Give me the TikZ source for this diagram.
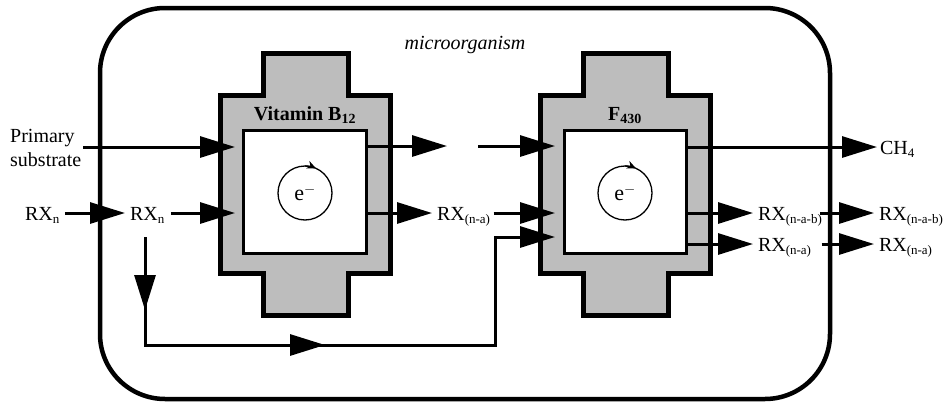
\documentclass[tikz,border=0pt]{standalone}
\usepackage{fontspec}
\setmainfont{Liberation Serif}
\usetikzlibrary{arrows.meta,decorations.markings}
\newcommand{\mysub}[1]{$_{\hbox{\fontsize{13}{14}\selectfont #1}}$}
\begin{document}
\begin{tikzpicture}[x=1pt,y=-1pt,
  font=\fontsize{20}{24}\selectfont,
  conn/.style={line width=3pt,-{Triangle[length=35pt,width=21pt]}},
  lbl/.style={inner sep=0pt,outer sep=0pt,anchor=west,text height=14pt,text depth=0pt},
  crossbox/.style={fill=gray!52,draw=black,line width=5pt,line join=miter},
  innerbox/.style={fill=white,draw=black,line width=3pt},
  ring/.style={circle,draw,line width=1.3pt,minimum size=54pt,inner sep=0pt,outer sep=0pt,font=\fontsize{22}{24}\selectfont},
  boxlabel/.style={anchor=base,inner sep=0pt,font=\bfseries\fontsize{20}{24}\selectfont}]
\useasboundingbox (0,0) rectangle (946,407);

% cell boundary
\draw[line width=4.5pt,rounded corners=65pt] (100,8) rectangle (830,399);
\node[inner sep=0pt,font=\itshape\fontsize{20}{24}\selectfont] (mo) at (465,45) {microorganism};

% Vitamin B12 enzyme
\draw[crossbox] (263,53) -- (348,53) -- (348,95) -- (390,95) -- (390,273) -- (348,273) -- (348,315) -- (263,315) -- (263,273) -- (220,273) -- (220,95) -- (263,95) -- cycle;
\draw[innerbox] (243,130) rectangle (366,253);
\node[boxlabel] (vb) at (305,120) {Vitamin B\textsubscript{12}};
\node[ring] (c1) at (305,193) {e$^-$};
\draw[line width=1.3pt,-{Stealth[length=9pt,width=8pt]}] (c1.north) arc[start angle=90,end angle=66,radius=27pt];

% F430 enzyme
\draw[crossbox] (583,53) -- (668,53) -- (668,95) -- (710,95) -- (710,273) -- (668,273) -- (668,315) -- (583,315) -- (583,273) -- (540,273) -- (540,95) -- (583,95) -- cycle;
\draw[innerbox] (564,130) rectangle (686,253);
\node[boxlabel] (fl) at (625,120) {F\textsubscript{430}};
\node[ring] (c2) at (625,193) {e$^-$};
\draw[line width=1.3pt,-{Stealth[length=9pt,width=8pt]}] (c2.north) arc[start angle=90,end angle=66,radius=27pt];

% text nodes
\node[inner sep=0pt,anchor=west,align=left] (ps) at (10,148) {Primary\\substrate};
\node[lbl] (rx1) at (25,213) {RX\mysub{n}};
\node[lbl] (rx2) at (130,213) {RX\mysub{n}};
\node[lbl] (rxna1) at (437,213) {RX\mysub{(n-a)}};
\node[lbl] (ch4) at (880,147) {CH\mysub{4}};
\node[lbl] (rxnab1) at (758,213) {RX\mysub{(n-a-b)}};
\node[lbl] (rxna2) at (758,244) {RX\mysub{(n-a)}};
\node[lbl] (rxnab2) at (879,213) {RX\mysub{(n-a-b)}};
\node[lbl] (rxna3) at (879,244) {RX\mysub{(n-a)}};

% ports
\coordinate (bA) at (235,147);
\coordinate (bB) at (235,213);
\coordinate (bC) at (366,146);
\coordinate (mC) at (447,146);
\coordinate (mD) at (478,146);
\coordinate (bD) at (366,213);
\coordinate (fA) at (555,146);
\coordinate (fB) at (555,213);
\coordinate (fC) at (555,237);
\coordinate (fD) at (686,147);
\coordinate (fE) at (686,213);
\coordinate (fF) at (686,244);
\coordinate (lA) at (145,237);
\coordinate (lB) at (495,345);

% connectors
\draw[conn] ([xshift=2pt]ps.east |- bA) -- (bA);
\draw[conn] ([xshift=5pt]rx1.east) -- ([xshift=-5pt]rx2.west);
\draw[conn] ([xshift=6pt]rx2.east) -- (bB);
\draw[conn] (bC) -- (mC);
\draw[conn] (mD) -- (fA);
\draw[conn] (bD) -- ([xshift=-5pt]rxna1.west);
\draw[conn] ([xshift=3pt]rxna1.east) -- (fB);
\draw[conn,postaction={decorate},decoration={markings,
    mark=at position 73pt with {\arrow{Triangle[length=35pt,width=21pt]}},
    mark=at position 288pt with {\arrow{Triangle[length=35pt,width=21pt]}}}]
  (lA) |- (lB) |- (fC);
\draw[conn] (fD) -- ([xshift=-3pt]ch4.west);
\draw[conn] (fE) -- ([xshift=-5pt]rxnab1.west);
\draw[conn] ([xshift=-2pt]rxnab1.east) -- ([xshift=-5pt]rxnab2.west);
\draw[conn] (fF) -- ([xshift=-5pt]rxna2.west);
\draw[conn] ([xshift=10pt]rxna2.east) -- ([xshift=-5pt]rxna3.west);
\end{tikzpicture}
\end{document}
